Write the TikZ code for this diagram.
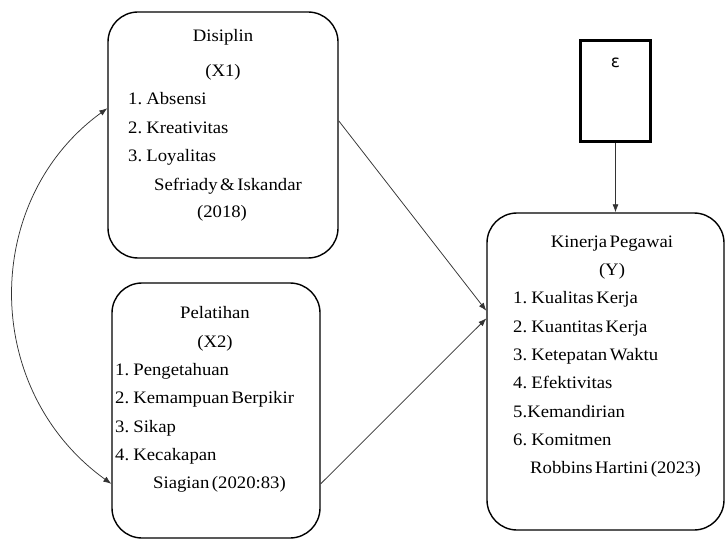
\documentclass[tikz,border=0pt]{standalone}
\usepackage{fontspec}
\setmainfont{Liberation Serif}[FakeStretch=1.07,WordSpace=0.55]
\newfontfamily\epsfont{DejaVu Sans}
\usetikzlibrary{arrows.meta}
\begin{document}
\begin{tikzpicture}[x=1pt,y=-1pt,
  box/.style={draw, line width=1.4pt, rounded corners=30pt, inner sep=0pt},
  txt/.style={inner sep=0pt, font=\fontsize{17.5}{19}\selectfont},
  lt/.style={txt, anchor=base west},
  ct/.style={txt, anchor=base},
  conn/.style={draw=black!80, line width=0.75pt, -{Latex[length=8pt,width=6pt]}}]
\useasboundingbox (0,0) rectangle (725,540);
% boxes
\node[box, minimum width=230pt, minimum height=246pt] (x1) at (223,135) {};
\node[box, minimum width=208pt, minimum height=255pt] (x2) at (216,410.5) {};
\node[box, minimum width=237pt, minimum height=317pt] (y) at (605.5,371.5) {};
\node[draw, line width=3pt, minimum width=70pt, minimum height=101pt, inner sep=0pt] (eps) at (615.5,91) {};
\node[inner sep=0pt, font=\epsfont\fontsize{17}{18}\selectfont] (epst) at (615.5,63) {ε};
% X1 text
\node[ct] (t11) at (223,42) {Disiplin};
\node[ct] (t12) at (223,77) {(X1)};
\node[lt] (t13) at (128,105) {1. Absensi};
\node[lt] (t14) at (128,134) {2. Kreativitas};
\node[lt] (t15) at (128,162) {3. Loyalitas};
\node[ct] (t16) at (228,190) {Sefriady \& Iskandar};
\node[ct] (t17) at (222,218) {(2018)};
% X2 text
\node[ct] (t21) at (215,318) {Pelatihan};
\node[ct] (t22) at (215,347) {(X2)};
\node[lt] (t23) at (115,375) {1. Pengetahuan};
\node[lt] (t24) at (115,403) {2. Kemampuan Berpikir};
\node[lt] (t25) at (115,432) {3. Sikap};
\node[lt] (t26) at (115,460) {4. Kecakapan};
\node[lt] (t27) at (153,488) {Siagian (2020:83)};
% Y text
\node[ct] (t31) at (612,247) {Kinerja Pegawai};
\node[ct] (t32) at (612,275) {(Y)};
\node[lt] (t33) at (513,303) {1. Kualitas Kerja};
\node[lt] (t34) at (513,332) {2. Kuantitas Kerja};
\node[lt] (t35) at (513,360) {3. Ketepatan Waktu};
\node[lt] (t36) at (513,388) {4. Efektivitas};
\node[lt] (t37) at (513,417) {5.Kemandirian};
\node[lt] (t38) at (513,445) {6. Komitmen};
\node[lt] (t39) at (530,473) {Robbins Hartini (2023)};
% connectors
\draw[conn] (x1.7) -- (y.153);
\draw[conn] (x2.-35) -- (y.156);
\draw[conn] (eps.south) -- (eps.south |- y.north);
\draw[draw=black!80, line width=0.75pt, {Latex[length=8pt,width=6pt]}-{Latex[length=8pt,width=6pt]}]
  (x1.167.7) .. controls (-19,200) and (-19,390) .. (x2.215.6);
\end{tikzpicture}
\end{document}
